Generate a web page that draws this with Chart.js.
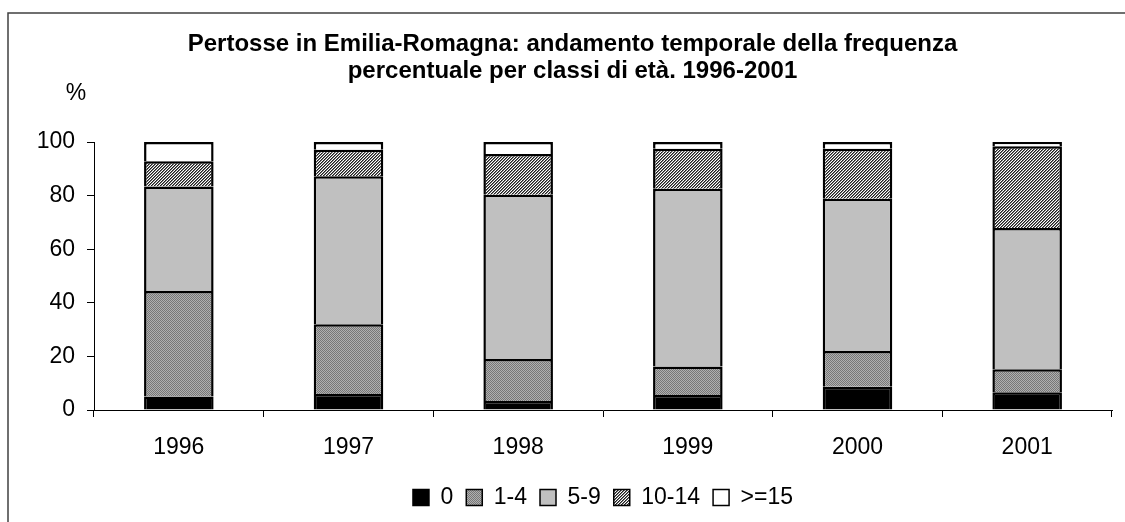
<!DOCTYPE html>
<html lang="it">
<head>
<meta charset="utf-8">
<title>Pertosse in Emilia-Romagna</title>
<script src="https://cdn.jsdelivr.net/npm/chart.js@4/dist/chart.umd.min.js"></script>
<style>
  html, body { margin: 0; padding: 0; background: #fff; overflow: hidden; }
  #chartBox { width: 1125px; height: 522px; }
</style>
</head>
<body>
<div id="chartBox"><canvas id="pertosseChart" width="1125" height="522"></canvas></div>
<script>
// Chart data
const years = ["1996", "1997", "1998", "1999", "2000", "2001"];
const ageLabels = ["0", "1-4", "5-9", "10-14", ">=15"];
const age0 = [5.0, 6.0, 3.4, 5.6, 8.7, 6.6];
const age1to4 = [39.4, 26.0, 15.6, 10.6, 13.3, 8.6];
const age5to9 = [39.0, 55.2, 61.3, 66.4, 56.8, 52.7];
const age10to14 = [9.4, 9.9, 15.2, 14.9, 18.7, 30.5];
const age15plus = [7.2, 2.9, 4.5, 2.5, 2.5, 1.6];
const yTicks = [0, 20, 40, 60, 80, 100];

const titleLines = [
  "Pertosse in Emilia-Romagna: andamento temporale della frequenza",
  "percentuale per classi di età. 1996-2001",
];

const FONT = "'Liberation Sans', Arial, sans-serif";

// Small tiles used as fill patterns
function makePattern(size, paint) {
  const tile = document.createElement("canvas");
  tile.width = size;
  tile.height = size;
  const tctx = tile.getContext("2d");
  paint(tctx, size);
  return tctx.createPattern(tile, "repeat");
}

// fine grey dots
const dotPattern = makePattern(2, function (c) {
  c.fillStyle = "#b0b0b0";
  c.fillRect(0, 0, 2, 2);
  c.fillStyle = "#777777";
  c.fillRect(0, 0, 1, 1);
  c.fillRect(1, 1, 1, 1);
});

// fine diagonal hatch ////
const hatchPattern = makePattern(3, function (c) {
  const shades = ["#1e1e1e", "#7a7a7a", "#ffffff"];
  for (let x = 0; x < 3; x++) {
    for (let y = 0; y < 3; y++) {
      c.fillStyle = shades[(x + y) % 3];
      c.fillRect(x, y, 1, 1);
    }
  }
});

const fills = ["#000000", dotPattern, "#c0c0c0", hatchPattern, "#ffffff"];
const series = [age0, age1to4, age5to9, age10to14, age15plus];

// Frame around the figure and the "%" label above the y axis
const decorPlugin = {
  id: "decor",
  afterDraw(chart) {
    const ctx = chart.ctx;
    const area = chart.chartArea;
    ctx.save();
    ctx.strokeStyle = "#404040";
    ctx.lineWidth = 1.5;
    ctx.beginPath();
    ctx.moveTo(8, chart.height);
    ctx.lineTo(8, 13);
    ctx.lineTo(chart.width, 13);
    ctx.stroke();

    ctx.fillStyle = "#000";
    ctx.font = "23px " + FONT;
    ctx.textAlign = "center";
    ctx.textBaseline = "middle";
    ctx.fillText("%", area.left - 18, area.top - 48);
    ctx.restore();
  },
};

function buildDatasets() {
  return ageLabels.map(function (label, i) {
    return {
      label: label,
      data: series[i],
      backgroundColor: fills[i],
      borderColor: "#000000",
      borderWidth: 2.5,
      borderSkipped: "start",
      barPercentage: 0.41,
      categoryPercentage: 1.0,
    };
  });
}

function initializeChart() {
  const ctx = document.getElementById("pertosseChart").getContext("2d");

  new Chart(ctx, {
    type: "bar",
    data: {
      labels: years,
      datasets: buildDatasets(),
    },
    options: {
      responsive: false,
      animation: false,
      layout: {
        padding: { left: 33, right: 13, top: 0, bottom: 3 },
      },
      plugins: {
        tooltip: { enabled: false },
        title: {
          display: true,
          text: titleLines,
          color: "#000",
          font: { family: FONT, size: 24, weight: "bold", lineHeight: 1.125 },
          padding: { top: 31, bottom: 57 },
        },
        legend: {
          display: true,
          position: "bottom",
          fullSize: false,
          labels: {
            color: "#000",
            font: { family: FONT, size: 23 },
            boxWidth: 16,
            boxHeight: 16,
            padding: 13,
            generateLabels: function (chart) {
              const items = Chart.defaults.plugins.legend.labels.generateLabels(chart);
              items.forEach(function (item) {
                item.lineWidth = 1.5;
                item.strokeStyle = "#000";
              });
              return items;
            },
          },
        },
      },
      scales: {
        x: {
          stacked: true,
          afterFit: function (scale) {
            scale.height = 63;
          },
          grid: {
            display: true,
            offset: true,
            drawOnChartArea: false,
            drawTicks: true,
            tickLength: 7,
            color: "#000",
          },
          border: { display: true, color: "#000", width: 1 },
          ticks: {
            color: "#000",
            font: { family: FONT, size: 23 },
            padding: 17,
            maxRotation: 0,
          },
        },
        y: {
          stacked: true,
          min: 0,
          max: 100,
          afterFit: function (scale) {
            scale.width = 61;
          },
          afterBuildTicks: function (scale) {
            scale.ticks = yTicks.map(function (v) {
              return { value: v };
            });
          },
          grid: {
            display: true,
            drawOnChartArea: false,
            drawTicks: true,
            tickLength: 7,
            color: "#000",
          },
          border: { display: true, color: "#000", width: 1 },
          ticks: {
            color: "#000",
            font: { family: FONT, size: 23 },
            padding: 12,
          },
        },
      },
    },
    plugins: [decorPlugin],
  });
}

document.addEventListener("DOMContentLoaded", initializeChart);
</script>
</body>
</html>
